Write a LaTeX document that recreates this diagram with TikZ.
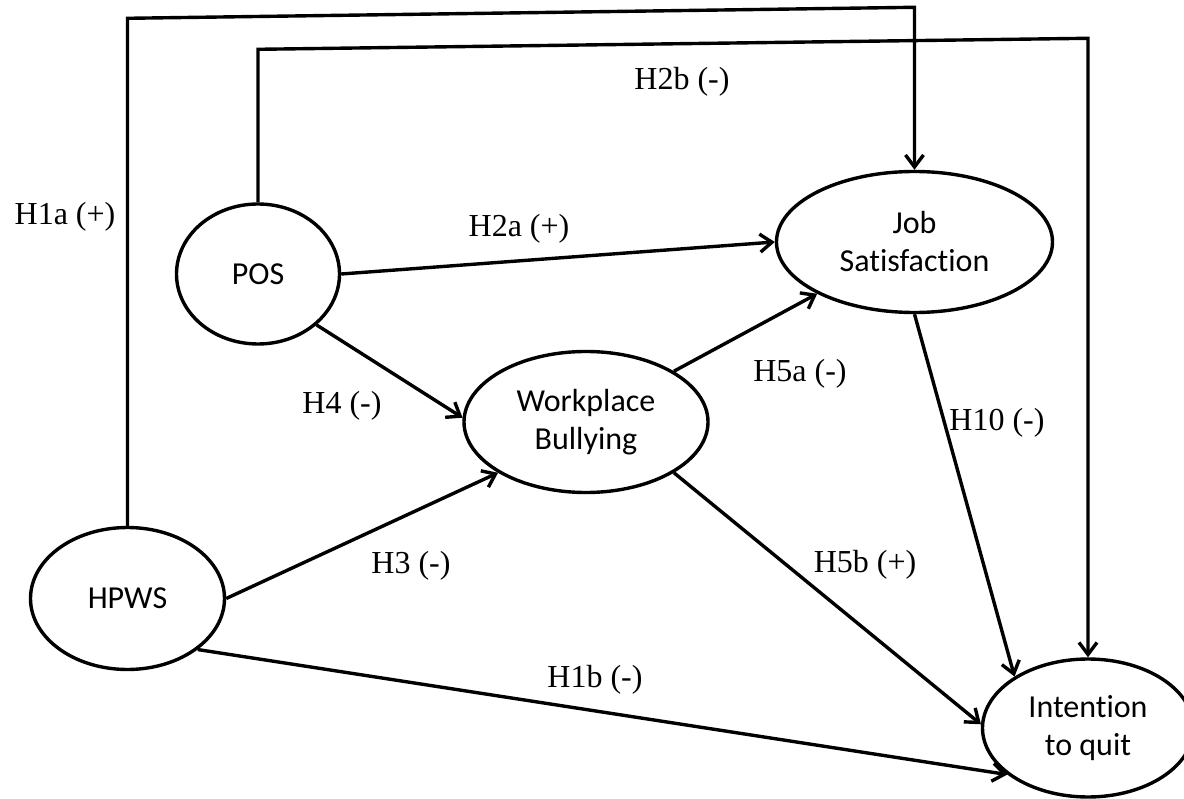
\documentclass[tikz,border=0pt]{standalone}
\usepackage{fontspec}
\setmainfont{Liberation Serif}
\newfontfamily\calibri[Ligatures={NoCommon,NoRare,NoContextual},RawFeature={-liga;-dlig}]{Carlito}
\usetikzlibrary{shapes.geometric,arrows.meta}
\begin{document}
\begin{tikzpicture}[x=1pt,y=-1pt,
  var/.style={draw, line width=3.4pt, ellipse, inner sep=0pt, font=\calibri\fontsize{32}{38}\selectfont, align=center},
  lab/.style={inner sep=0pt, font=\fontsize{32}{38}\selectfont},
  arr/.style={line width=3.4pt, -{Straight Barb[length=12pt,width=18pt]}}]
\useasboundingbox (0,0) rectangle (1184,799);
% variables
\node[var, minimum width=163pt, minimum height=140pt] (pos) at (258,274) {POS};
\node[var, minimum width=194pt, minimum height=142pt] (hpws) at (127.5,598.5) {HPWS};
\node[var, minimum width=244pt, minimum height=141pt] (wb) at (586,422) {Workplace\\Bullying};
\node[var, minimum width=276pt, minimum height=141pt] (js) at (914.5,242) {Job\\Satisfaction};
\node[var, minimum width=211pt, minimum height=138pt] (itq) at (1088,728) {Intention\\to quit};
% direct paths
\draw[arr] (pos.0) -- (js.180);
\draw[arr] (pos.-41) -- (wb.178);
\draw[arr] (hpws.0) -- (wb.210);
\draw[arr] (hpws.-36) -- (itq.210);
\draw[arr] (wb.30) -- (js.208);
\draw[arr] (wb.-30) -- (itq.178);
\draw[arr] (js.-90) -- (itq.145);
% long paths over the top
\coordinate (a1) at (127.5,18.3);
\coordinate (a2) at (914.5,7.3);
\draw[arr] (hpws.north) -- (a1) -- (a2) -- (js.north);
\coordinate (b1) at (258,49.3);
\coordinate (b2) at (1088,38.3);
\draw[arr] (pos.north) -- (b1) -- (b2) -- (itq.north);
% labels
\node[lab] (l1a) at (65,217) {H1a (+)};
\node[lab] (l2b) at (682,82) {H2b (-)};
\node[lab] (l2a) at (519,229) {H2a (+)};
\node[lab] (l4) at (342,406) {H4 (-)};
\node[lab] (l3) at (411,566) {H3 (-)};
\node[lab] (l1b) at (595,680) {H1b (-)};
\node[lab] (l5a) at (800,374) {H5a (-)};
\node[lab] (l10) at (997,423) {H10 (-)};
\node[lab] (l5b) at (865,565) {H5b (+)};
\end{tikzpicture}
\end{document}
